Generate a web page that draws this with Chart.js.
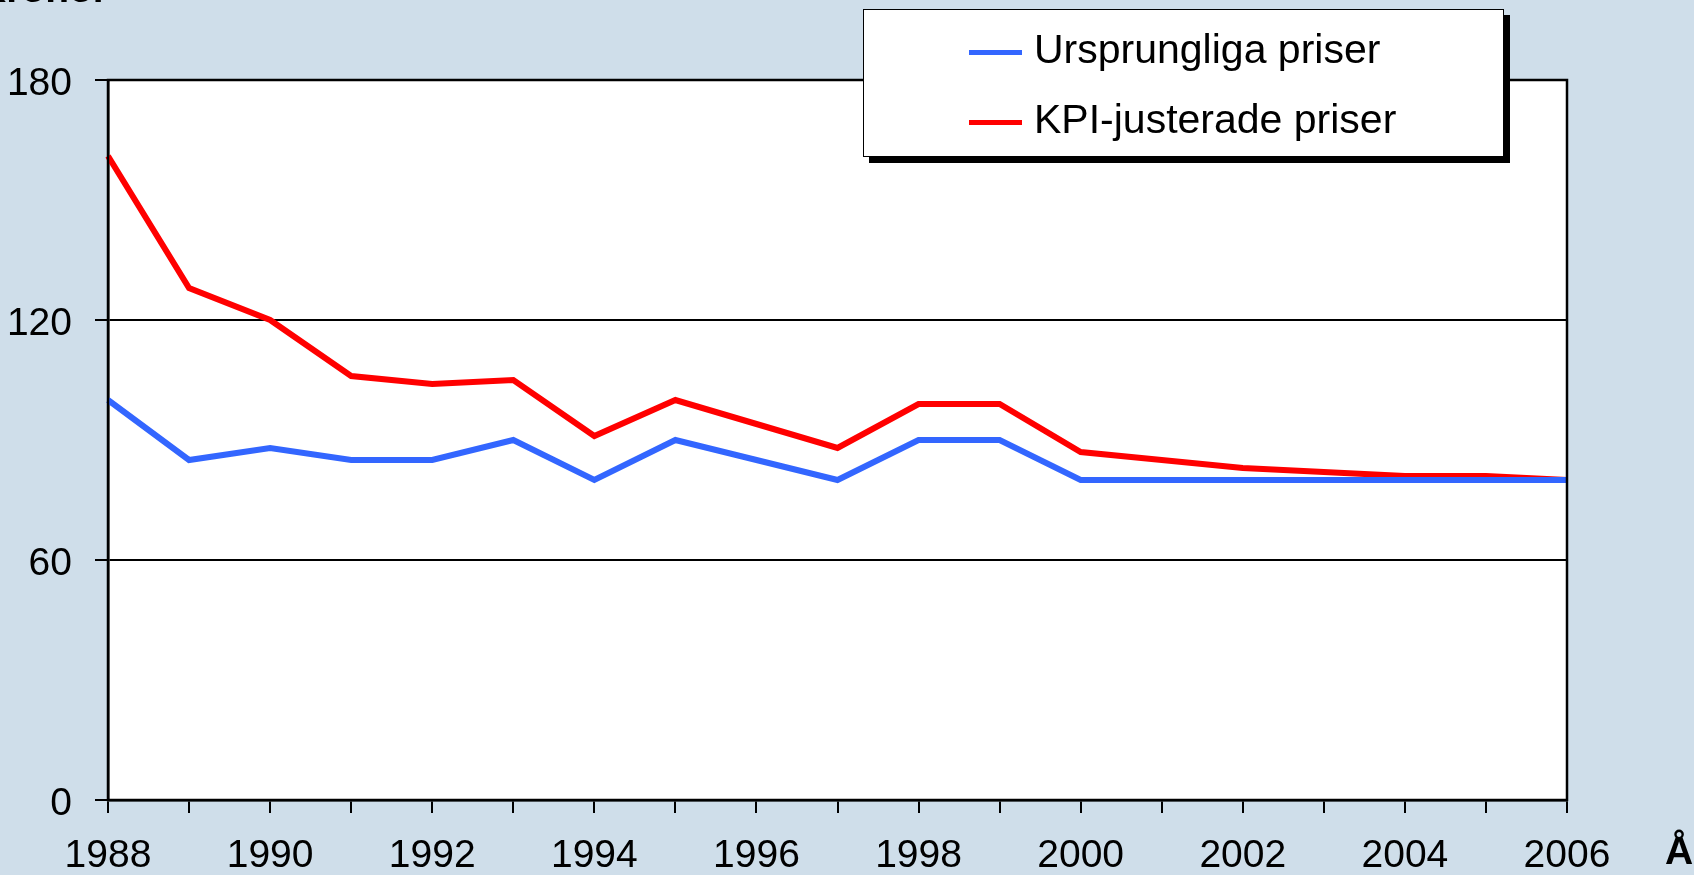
<!DOCTYPE html>
<html>
<head>
<meta charset="utf-8">
<script src="https://cdn.jsdelivr.net/npm/chart.js@4"></script>
<style>
    html, body { margin: 0; padding: 0; overflow: hidden; background: #cfdeea; }
    #wrap { position: relative; width: 1694px; height: 875px; }
    #wrap canvas { position: absolute; left: 0; top: 0; }
    .titel { position: absolute; font: bold 39px "Liberation Sans", Arial, sans-serif; color: #000; white-space: nowrap; }
    #ytitel { left: -22px; top: -33px; }
    #xtitel { left: 1665px; top: 829px; }
    #legend {
        position: absolute; left: 863px; top: 9px; width: 639px; height: 146px;
        background: #fff; border: 1px solid #000; box-shadow: 6px 6px 0 #000;
        font: 41px "Liberation Sans", Arial, sans-serif; color: #000;
    }
    #legend .rad { position: absolute; left: 105px; height: 46px; line-height: 46px; }
    #legend .streck { display: inline-block; width: 53px; height: 5px; vertical-align: middle; margin-right: 12px; }
</style>
</head>
<body>
<div id="wrap">
    <canvas id="prisChart" width="1694" height="875"></canvas>
    <div id="ytitel" class="titel">Kronor</div>
    <div id="xtitel" class="titel">År</div>
    <div id="legend"></div>
</div>
<script>
const ar = ['1988', '1989', '1990', '1991', '1992', '1993', '1994', '1995', '1996', '1997',
            '1998', '1999', '2000', '2001', '2002', '2003', '2004', '2005', '2006'];
const ursprungliga = [100, 85, 88, 85, 85, 90, 80, 90, 85, 80, 90, 90, 80, 80, 80, 80, 80, 80, 80];
const kpiJusterade = [161, 128, 120, 106, 104, 105, 91, 100, 94, 88, 99, 99, 87, 85, 83, 82, 81, 81, 80];
const yTicks = [0, 60, 120, 180];

document.addEventListener('DOMContentLoaded', function() {
    const ctx = document.getElementById('prisChart').getContext('2d');
    const font = { family: '"Liberation Sans", Arial, sans-serif', size: 39 };

    // vit plottyta med svart ram
    const ramPlugin = {
        id: 'ram',
        beforeDraw(chart) {
            const a = chart.chartArea;
            const c = chart.ctx;
            c.save();
            c.fillStyle = '#ffffff';
            c.fillRect(a.left, a.top, a.right - a.left, a.bottom - a.top);
            c.restore();
        },
        afterDraw(chart) {
            const a = chart.chartArea;
            const c = chart.ctx;
            c.save();
            c.strokeStyle = '#000';
            c.lineWidth = 2.5;
            c.strokeRect(a.left, a.top, a.right - a.left, a.bottom - a.top);
            c.restore();
        }
    };

    const chart = new Chart(ctx, {
        type: 'line',
        data: {
            labels: ar,
            datasets: [{
                label: 'Ursprungliga priser',
                data: ursprungliga,
                borderColor: '#3366ff',
                borderWidth: 6,
                pointRadius: 0,
                tension: 0
            }, {
                label: 'KPI-justerade priser',
                data: kpiJusterade,
                borderColor: '#ff0000',
                borderWidth: 6,
                pointRadius: 0,
                tension: 0
            }]
        },
        options: {
            responsive: false,
            animation: false,
            layout: { padding: { left: 0, right: 127, top: 80, bottom: 0 } },
            plugins: { legend: { display: false }, tooltip: { enabled: false } },
            scales: {
                x: {
                    offset: false,
                    afterFit(scale) { scale.height = 75; },
                    grid: { drawOnChartArea: false, color: '#000', lineWidth: 2, tickLength: 13 },
                    border: { color: '#000', width: 2.5 },
                    ticks: {
                        autoSkip: false,
                        maxRotation: 0,
                        color: '#000',
                        font: font,
                        padding: 20,
                        callback: function(value, index) {
                            return index % 2 === 0 ? this.getLabelForValue(value) : '';
                        }
                    }
                },
                y: {
                    min: 0,
                    max: 180,
                    afterFit(scale) { scale.width = 108; },
                    afterBuildTicks(scale) { scale.ticks = yTicks.map(v => ({ value: v })); },
                    grid: { color: '#000', lineWidth: 2, tickLength: 13 },
                    border: { color: '#000', width: 2.5 },
                    ticks: { color: '#000', font: font, padding: 23, labelOffset: 4 }
                }
            }
        },
        plugins: [ramPlugin]
    });

    // legend byggd av dataseten
    const legend = document.getElementById('legend');
    chart.data.datasets.forEach(function(ds, i) {
        const rad = document.createElement('div');
        rad.className = 'rad';
        rad.style.top = (i === 0 ? 16 : 86) + 'px';
        const streck = document.createElement('span');
        streck.className = 'streck';
        streck.style.background = ds.borderColor;
        rad.appendChild(streck);
        rad.appendChild(document.createTextNode(ds.label));
        legend.appendChild(rad);
    });
});
</script>
</body>
</html>
